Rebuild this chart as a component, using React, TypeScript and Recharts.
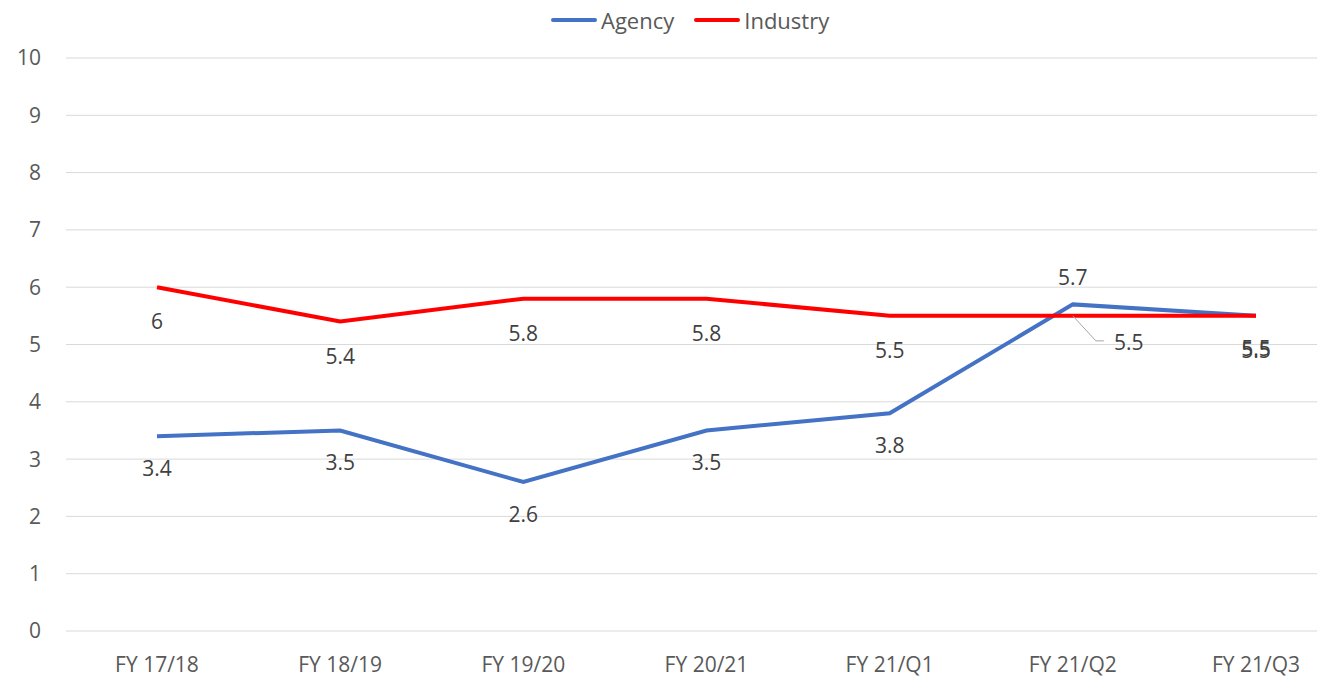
import React from "react";
import { LineChart, Line, XAxis, YAxis, CartesianGrid, Legend } from "recharts";

const categories = ["FY 17/18", "FY 18/19", "FY 19/20", "FY 20/21", "FY 21/Q1", "FY 21/Q2", "FY 21/Q3"];
const agency = [3.4, 3.5, 2.6, 3.5, 3.8, 5.7, 5.5];
const industry = [6, 5.4, 5.8, 5.8, 5.5, 5.5, 5.5];
const yTicks = [0, 1, 2, 3, 4, 5, 6, 7, 8, 9, 10];

const data = categories.map((c, i) => ({ name: c, Agency: agency[i], Industry: industry[i] }));

const FONT = "'Open Sans', 'Liberation Sans', sans-serif";
const BLUE = "#4472C4";
const RED = "#FF0000";

const AgencyLabel = (props: any) => {
  const { x, y, value, index } = props;
  const dy = index === 5 ? -27 : 32;
  return (
    <text x={x} y={y + dy} textAnchor="middle" dominantBaseline="central" fill="#404040" fontSize={21} fontFamily={FONT}>
      {value}
    </text>
  );
};

const IndustryLabel = (props: any) => {
  const { x, y, value, index } = props;
  if (index === 5) {
    return (
      <g>
        <polyline points={`${x},${y} ${x + 23},${y + 25} ${x + 31},${y + 25}`} fill="none" stroke="#A6A6A6" strokeWidth={1} />
        <text x={x + 56} y={y + 26} textAnchor="middle" dominantBaseline="central" fill="#404040" fontSize={21} fontFamily={FONT}>
          {value}
        </text>
      </g>
    );
  }
  return (
    <text x={x} y={y + 34} textAnchor="middle" dominantBaseline="central" fill="#404040" fontSize={21} fontFamily={FONT}>
      {value}
    </text>
  );
};

const LegendContent = (props: any) => {
  const { payload } = props;
  return (
    <div style={{ height: 40, display: "flex", justifyContent: "flex-start", alignItems: "center", paddingLeft: 551, fontFamily: FONT, fontSize: 22, color: "#595959" }}>
      {(payload || []).map((p: any) => (
        <div key={p.value} style={{ display: "flex", alignItems: "center", marginRight: 20 }}>
          <svg width={46} height={10} style={{ marginRight: 4 }}>
            <line x1={2} y1={5} x2={44} y2={5} stroke={p.color} strokeWidth={4} strokeLinecap="round" />
          </svg>
          <span>{p.value}</span>
        </div>
      ))}
    </div>
  );
};

export default function App() {
  return (
    <div style={{ marginLeft: -8, marginTop: -8, width: 1325, height: 681, overflow: "hidden", background: "#fff" }}>
      <LineChart width={1350} height={681} data={data} margin={{ top: 18, right: 3, bottom: 10, left: 0 }}>
        <CartesianGrid horizontal={true} vertical={false} stroke="#D9D9D9" strokeWidth={1} />
        <XAxis
          dataKey="name"
          axisLine={false}
          tickLine={false}
          height={40}
          tickMargin={20}
          padding={{ left: 91, right: 91 }}
          tick={{ fill: "#595959", fontSize: 21, fontFamily: FONT }}
          interval={0}
        />
        <YAxis
          domain={[0, 10]}
          ticks={yTicks}
          axisLine={false}
          tickLine={false}
          width={66}
          tickMargin={19}
          tick={{ fill: "#595959", fontSize: 21, fontFamily: FONT }}
          interval={0}
        />
        <Legend verticalAlign="top" align="left" content={<LegendContent />} wrapperStyle={{ top: 0, left: 0, width: 1325 }} />
        <Line dataKey="Agency" stroke={BLUE} strokeWidth={4} dot={false} isAnimationActive={false} label={<AgencyLabel />} />
        <Line dataKey="Industry" stroke={RED} strokeWidth={4} dot={false} isAnimationActive={false} label={<IndustryLabel />} />
      </LineChart>
    </div>
  );
}
